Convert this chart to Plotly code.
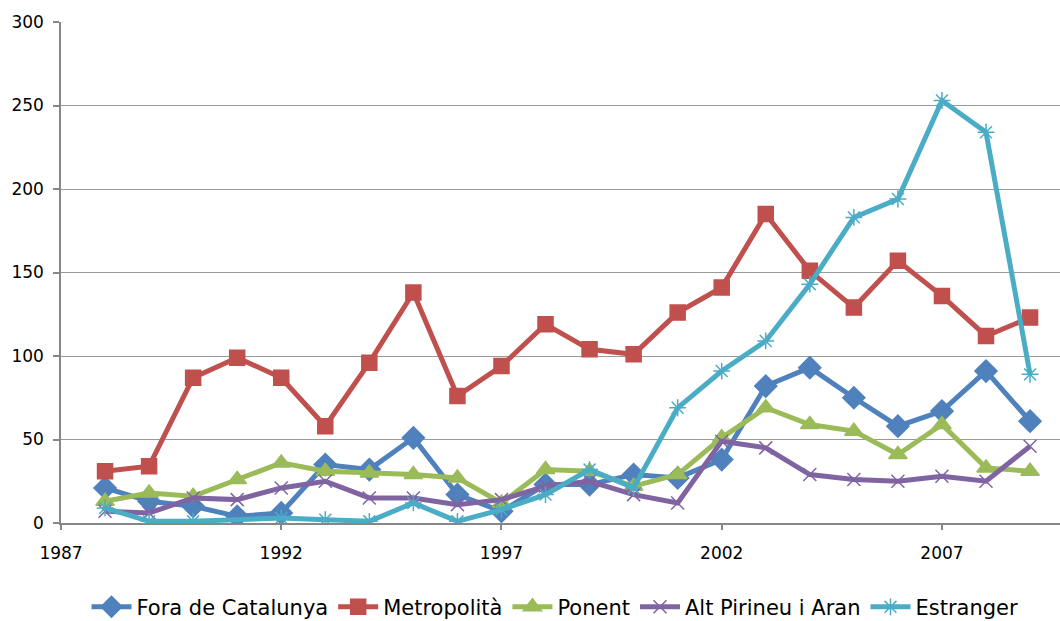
import plotly.graph_objects as go

# Annual counts by origin, 1988-2009
years = list(range(1988, 2010))

fora_de_catalunya = [21, 13, 10, 4, 6, 35, 32, 51, 17, 7, 23, 23, 29, 27, 38, 82, 93, 75, 58, 67, 91, 61]
metropolita = [31, 34, 87, 99, 87, 58, 96, 138, 76, 94, 119, 104, 101, 126, 141, 185, 151, 129, 157, 136, 112, 123]
ponent = [13, 18, 16, 26, 36, 31, 30, 29, 27, 12, 32, 31, 22, 29, 51, 69, 59, 55, 41, 59, 33, 31]
alt_pirineu_aran = [7, 6, 15, 14, 21, 25, 15, 15, 11, 14, 22, 25, 17, 12, 49, 45, 29, 26, 25, 28, 25, 46]
estranger = [9, 1, 1, None, 3, 2, 1, 12, 1, 8, 17, 32, 21, 69, 91, 109, 143, 183, 194, 253, 234, 89]

x_ticks = [1987, 1992, 1997, 2002, 2007]
y_ticks = [0, 50, 100, 150, 200, 250, 300]

series = [
    ("Fora de Catalunya", fora_de_catalunya, "#4F81BD", "diamond", 17),
    ("Metropolità", metropolita, "#C0504D", "square", 15),
    ("Ponent", ponent, "#9BBB59", "triangle-up", 16),
    ("Alt Pirineu i Aran", alt_pirineu_aran, "#8064A2", "x-thin-open", 13),
    ("Estranger", estranger, "#4BACC6", "asterisk-open", 14),
]

fig = go.Figure()
for name, values, color, symbol, size in series:
    fig.add_trace(go.Scatter(
        x=years, y=values, name=name, mode="lines+markers",
        connectgaps=True,
        line=dict(color=color, width=5),
        marker=dict(symbol=symbol, size=size, color=color,
                    line=dict(color=color, width=1.5)),
    ))

font_family = "DejaVu Sans"
fig.update_layout(
    width=1060, height=621,
    margin=dict(l=61, r=0, t=22, b=98, autoexpand=False),
    paper_bgcolor="white", plot_bgcolor="white",
    font=dict(family=font_family, size=17, color="#000000"),
    showlegend=True,
    legend=dict(orientation="h", x=0.4945, xanchor="center", y=-0.168, yanchor="middle",
                font=dict(family=font_family, size=21, color="#000000"),
                itemwidth=40, tracegroupgap=0),
    xaxis=dict(
        range=[1987, 2009.68], tickmode="array", tickvals=x_ticks,
        ticktext=[str(t) for t in x_ticks],
        showgrid=False, zeroline=False,
        showline=True, linecolor="#878787", linewidth=1.5,
        ticks="outside", ticklen=5, tickcolor="#878787", tickwidth=1.5,
        ticklabelstandoff=9,
    ),
    yaxis=dict(
        range=[0, 300], tickmode="array", tickvals=y_ticks,
        showgrid=True, gridcolor="#9A9A9A", gridwidth=1.2,
        zeroline=False,
        showline=True, linecolor="#878787", linewidth=1.5,
        ticks="outside", ticklen=6, tickcolor="#878787", tickwidth=1.5,
        ticklabelstandoff=6,
    ),
)

fig.write_html("out.html")
